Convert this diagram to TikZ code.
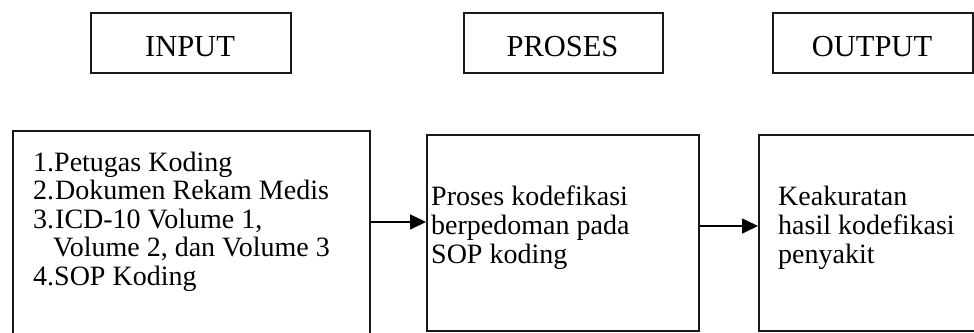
\documentclass[tikz,border=0pt]{standalone}
\usepackage{fontspec}
\setmainfont{Liberation Serif}
\usetikzlibrary{arrows.meta}
\begin{document}
\begin{tikzpicture}[x=1pt,y=-1pt,
  box/.style={draw=black!90,line width=1.6pt,rectangle,inner sep=0pt,anchor=north west},
  head/.style={anchor=base,inner sep=0pt,font=\fontsize{30.5}{30.5}\selectfont},
  txt/.style={anchor=base west,inner sep=0pt,font=\fontsize{28}{28}\selectfont},
  arr/.style={draw=black,line width=1.6pt,-{Triangle[length=16pt,width=15pt]}}]
\useasboundingbox (0,0) rectangle (974,332);
\clip (0,0) rectangle (974,332);
% header boxes
\node[box,minimum width=200pt,minimum height=60pt] (hin) at (90,12) {};
\node[box,minimum width=199pt,minimum height=60pt] (hpr) at (463,12) {};
\node[box,minimum width=200pt,minimum height=60pt] (hout) at (772,12) {};
\node[head] (tin) at (190,56) {INPUT};
\node[head] (tpr) at (562.5,56) {PROSES};
\node[head] (tout) at (872,56) {OUTPUT};
% main boxes
\node[box,minimum width=357pt,minimum height=220pt] (bin) at (12,130) {};
\node[box,minimum width=272pt,minimum height=196pt] (bpr) at (426,134) {};
\node[box,minimum width=240pt,minimum height=196pt] (bout) at (758,134) {};
% input text
\node[txt] (n1) at (33,171) {1.};
\node[txt] (i1) at (54,171) {Petugas Koding};
\node[txt] (n2) at (33,199.5) {2.};
\node[txt] (i2) at (55,199.5) {Dokumen Rekam Medis};
\node[txt] (n3) at (33,228) {3.};
\node[txt] (i3) at (55,228) {ICD-10 Volume 1,};
\node[txt] (i3b) at (53,256.5) {Volume 2, dan Volume 3};
\node[txt] (n4) at (33,285) {4.};
\node[txt] (i4) at (54,285) {SOP Koding};
% process text
\node[txt] (p1) at (431,205) {Proses kodefikasi};
\node[txt] (p2) at (431,234) {berpedoman pada};
\node[txt] (p3) at (431,263) {SOP koding};
% output text
\node[txt] (o1) at (778,205) {Keakuratan};
\node[txt] (o2) at (778,234) {hasil kodefikasi};
\node[txt] (o3) at (778,263) {penyakit};
% arrows
\coordinate (a1) at (0,222);
\coordinate (a2) at (0,226);
\draw[arr] (bin.east |- a1) -- (bpr.west |- a1);
\draw[arr] (bpr.east |- a2) -- (bout.west |- a2);
\end{tikzpicture}
\end{document}
